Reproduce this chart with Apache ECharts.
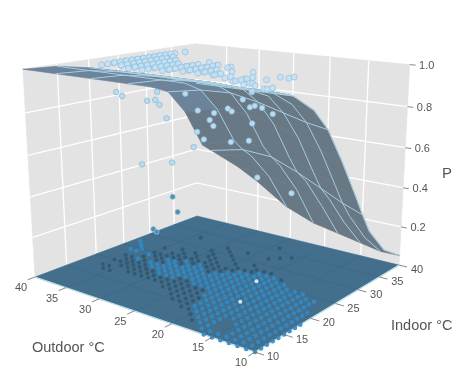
<!DOCTYPE html>
<html>
<head>
<meta charset="utf-8">
<style>
  html, body { margin: 0; padding: 0; background: #fff; }
  #chart { width: 469px; height: 375px; }
</style>
<script src="https://cdn.jsdelivr.net/npm/echarts@6/dist/echarts.min.js"></script>
</head>
<body>
<div id="chart"></div>
<script>
// tick labels
const outdoorTicks = [40, 35, 30, 25, 20, 15, 10]
const indoorTicks = [10, 15, 20, 25, 30, 35, 40]
const pTicks = [0.2, 0.4, 0.6, 0.8, 1.0]

// fitted surface: one row per outdoor node, one column per indoor node
const surfaceOutdoor = [10, 12, 14, 15, 16, 18, 20, 22, 25, 30, 35, 40]
const surfaceIndoor = [10, 15, 20, 25, 30, 35, 40]
const surfaceP = [
  [0.70, 0.55, 0.43, 0.33, 0.23, 0.13, 0.05],
  [0.74, 0.66, 0.56, 0.44, 0.31, 0.18, 0.06],
  [0.77, 0.73, 0.65, 0.54, 0.41, 0.27, 0.14],
  [0.785, 0.75, 0.68, 0.57, 0.45, 0.33, 0.22],
  [0.80, 0.78, 0.72, 0.63, 0.52, 0.41, 0.31],
  [0.92, 0.90, 0.85, 0.77, 0.67, 0.57, 0.48],
  [0.99, 0.97, 0.93, 0.86, 0.78, 0.70, 0.63],
  [1.00, 0.99, 0.96, 0.91, 0.85, 0.78, 0.72],
  [1.00, 0.99, 0.96, 0.92, 0.87, 0.83, 0.78],
  [1.00, 0.99, 0.96, 0.92, 0.88, 0.83, 0.78],
  [1.00, 0.99, 0.96, 0.92, 0.88, 0.83, 0.78],
  [1.00, 0.99, 0.96, 0.92, 0.88, 0.83, 0.78]
]

// observations at P = 0, as [outdoor, [indoor, ...]]
const floorBright = [
  [10, [10, 11, 12, 13, 14, 15, 16, 17, 18]],
  [11, [10, 11, 12, 13, 14, 15, 16, 17, 18, 19, 20, 21]],
  [12, [10, 11, 12, 13, 14, 15, 16, 17, 18, 19, 20, 21, 22, 23, 24]],
  [13, [10, 11, 12, 13, 14, 15, 16, 17, 18, 19, 20, 21, 22, 23, 24]],
  [14, [10, 11, 12, 13, 14, 15, 16, 17, 18, 19, 20, 21, 22, 23, 24, 25]],
  [15, [10, 11, 14, 15, 16, 17, 18, 19, 20, 21, 22, 23, 24, 25]],
  [16, [10, 11, 15, 16, 17, 18, 19, 20, 21, 22, 23, 24, 25]],
  [17, [11, 12, 13, 14, 15, 16, 17, 18, 19, 20, 21, 22, 23, 24, 25, 26]],
  [18, [12, 13, 14, 15, 16, 17, 18, 19, 20, 21, 22, 23, 24, 25, 26]],
  [19, [13, 14, 15, 16, 17, 18, 19, 20, 21, 22, 23, 24, 25, 26, 27]],
  [20, [14, 15, 16, 17, 18, 19, 20, 21, 22, 23, 24, 25, 26, 27]],
  [21, [15, 16, 17, 18, 19, 20, 21, 22, 23, 24, 25, 26, 27]],
  [22, [18, 19, 20, 21, 22, 23, 24, 25, 26]],
  [23, [20, 21, 22, 23, 24, 25, 26]],
  [24, [20, 21, 22, 23, 24, 25]],
  [25, [20, 21, 22, 23, 24]],
  [26, [21, 22, 23]],
  [27, [21, 22, 23, 24]],
  [28, [20, 21, 22, 23, 24, 25]],
  [29, [20, 21, 22, 23, 24]],
  [30, [20, 21, 22, 23, 25]],
  [31, [21, 22, 23, 24]],
  [32, [21, 22, 24]],
  [33, [22]],
  [35, [22, 24]],
  [37, [24, 25]],
  [38, [24, 26]],
  [39, [27]]
]
const floorDark = [
  [18, [27]],
  [19, [12]],
  [20, [13, 28]],
  [21, [14, 28, 34]],
  [22, [14, 15, 16, 17, 27, 28, 33]],
  [23, [15, 16, 17, 18, 19, 27, 29, 32]],
  [24, [15, 16, 17, 18, 19, 26, 27, 36]],
  [25, [16, 17, 18, 19, 25, 26, 28]],
  [26, [17, 18, 19, 20, 24, 25, 26, 29, 32]],
  [27, [17, 18, 19, 20, 25, 26, 27, 30]],
  [28, [18, 19, 26, 27, 28, 31]],
  [29, [18, 19, 25, 26, 28, 29, 32]],
  [30, [18, 19, 24, 26, 27, 30]],
  [31, [18, 19, 20, 25, 26, 28]],
  [32, [18, 19, 20, 23, 25, 26, 27]],
  [33, [18, 19, 20, 21, 23, 24, 25, 26, 28]],
  [34, [19, 20, 21, 22, 24, 25, 33]],
  [35, [17, 19, 20, 21, 23, 25, 27]],
  [36, [17, 18, 20, 21, 22]],
  [37, [18, 20, 22]]
]
const floorWhite = [[18, 19], [20, 25]]

// observations near P = 1, as [outdoor, P, [indoor, ...]]
const topRows = [
  [37, 0.99, [19, 20, 21, 22, 23, 24, 25, 26, 27, 28, 29, 30, 32, 34]],
  [36, 1.00, [20, 21, 22, 23, 24, 25, 26, 27, 28, 29, 30]],
  [35, 0.99, [20, 21, 22, 23, 24, 25, 26, 27, 28, 29]],
  [34, 1.00, [19, 20, 21, 22, 23, 24, 25, 26, 28]],
  [33, 0.99, [19, 20, 21, 22, 23, 24, 25, 26, 27]],
  [32, 1.00, [19, 20, 21, 22, 23, 24, 25, 26]],
  [31, 0.99, [19, 20, 21, 22, 23, 24, 25]],
  [30, 1.00, [20, 21, 22, 23, 24]],
  [29, 0.99, [20, 21, 22, 23, 24, 25]],
  [28, 1.00, [20, 21, 22, 23, 24, 25, 27]],
  [27, 0.99, [21, 22, 23, 24, 25, 27]],
  [26, 1.00, [21, 22, 23, 24, 25, 26]],
  [25, 0.99, [21, 22, 23, 24, 27]],
  [24, 1.00, [21, 22, 23, 25]],
  [23, 0.99, [21, 22]],
  [22, 1.00, [20, 21, 23]],
  [20, 1.00, [19, 20, 24]],
  [19, 0.99, [19, 21]],
  [18, 1.00, [18, 19, 20, 21]],
  [17, 0.99, [18, 19, 22]],
  [16, 1.00, [18, 23]],
  [15, 1.00, [17, 23, 24]],
  [14, 0.99, [15, 17]],
  [13, 1.00, [16, 17]]
]

// scattered observations between the floor and the top, as [outdoor, indoor, P]
const midPoints = [
  [27.5, 22, 0.88], [25.8, 22, 0.81], [23.6, 22, 0.81], [24.2, 22, 0.775], [23.7, 22, 0.75],
  [21.8, 22, 0.84], [21.3, 22, 0.83], [19.9, 22, 0.89], [19, 22, 0.86], [18.7, 22, 0.79],
  [18.4, 22, 0.87], [17.5, 22, 0.865], [16.2, 22, 0.845], [25.9, 22, 0.71], [25, 22, 0.68],
  [21.4, 22, 0.69], [19.1, 22, 0.71], [18, 22, 0.55], [13.8, 22, 0.51], [26.4, 22, 0.635],
  [29.5, 22, 0.54], [34, 22, 0.50], [30.2, 22, 0.75], [37.7, 22, 0.84], [36.8, 22, 0.825],
  [33, 22, 0.82], [31.8, 22, 0.83], [31.2, 22, 0.81], [31.5, 22, 0.87]
]
const lowPoints = [[29.5, 22, 0.37], [28.8, 22, 0.30], [32.5, 22, 0.18], [32, 22, 0.17]]

// perspective camera fitted to the box corners
const camera = [
  [174.8, 204.5, -13.5, 35],
  [12.6, -14.4, -212, 277],
  [-0.1774, 0.2156, -0.06, 1]
]

const project = (outdoor, indoor, p) => {
  const v = [(40 - outdoor) / 30, (indoor - 10) / 30, p, 1]
  const dot = (row) => row[0] * v[0] + row[1] * v[1] + row[2] * v[2] + row[3]
  const w = dot(camera[2])
  return [dot(camera[0]) / w, dot(camera[1]) / w]
}

const expandFloor = (rows) => rows.flatMap(([o, list]) => list.map((i) => project(o, i, 0)))

// filled polygons, each a list of [outdoor, indoor, P]
const polygonSeries = (polys, fill, z) => ({
  type: 'custom',
  silent: true,
  z,
  data: polys.map((_, k) => [k]),
  renderItem: (params, api) => ({
    type: 'polygon',
    shape: { points: polys[params.dataIndex].map((c) => api.coord(project(c[0], c[1], c[2]))) },
    style: {
      fill: typeof fill === 'function' ? fill(params.dataIndex) : fill,
      stroke: typeof fill === 'function' ? fill(params.dataIndex) : fill,
      lineWidth: 0.6
    }
  })
})

const lineSeries = (lines, color, width, z) => ({
  type: 'custom',
  silent: true,
  z,
  data: lines.map((_, k) => [k]),
  renderItem: (params, api) => ({
    type: 'polyline',
    shape: { points: lines[params.dataIndex].map((c) => api.coord(project(c[0], c[1], c[2]))) },
    style: { fill: 'none', stroke: color, lineWidth: width }
  })
})

const textSeries = (labels, z) => ({
  type: 'custom',
  silent: true,
  z,
  data: labels.map((_, k) => [k]),
  renderItem: (params, api) => {
    const l = labels[params.dataIndex]
    const pos = api.coord(project(l.at[0], l.at[1], l.at[2]))
    return {
      type: 'text',
      x: pos[0] + l.dx,
      y: pos[1] + l.dy,
      style: {
        text: l.text,
        fill: '#555555',
        font: '11px "Liberation Sans", Arial, sans-serif',
        align: 'center',
        verticalAlign: 'middle'
      }
    }
  }
})

const scatterSeries = (points, size, color, border, z, opacity) => ({
  type: 'scatter',
  silent: true,
  z,
  symbolSize: size,
  data: points,
  itemStyle: { color, borderColor: border, borderWidth: border === 'none' ? 0 : 0.8, opacity: opacity || 1 }
})

// box
const walls = [
  [[40, 10, 0], [40, 40, 0], [40, 40, 1], [40, 10, 1]],
  [[40, 40, 0], [10, 40, 0], [10, 40, 1], [40, 40, 1]]
]
const floor = [[[40, 10, 0], [10, 10, 0], [10, 40, 0], [40, 40, 0]]]

const wallGrid = []
pTicks.slice(0, 4).forEach((p) => {
  wallGrid.push([[40, 10, p], [40, 40, p], [10, 40, p]])
})
;[15, 20, 25, 30, 35].forEach((v) => {
  wallGrid.push([[40, v, 0], [40, v, 1]])
  wallGrid.push([[v, 40, 0], [v, 40, 1]])
})

const floorGrid = []
;[15, 20, 25, 30, 35].forEach((v) => {
  floorGrid.push([[40, v, 0], [10, v, 0]])
  floorGrid.push([[v, 10, 0], [v, 40, 0]])
})

const floorEdge = [[[40, 10, 0], [10, 10, 0], [10, 40, 0]]]

// surface cells, far ones first so nearer ones paint over them
const surfaceCells = []
const cellMean = []
for (let r = surfaceOutdoor.length - 2; r >= 0; r--) {
  for (let c = surfaceIndoor.length - 2; c >= 0; c--) {
    surfaceCells.push([
      [surfaceOutdoor[r], surfaceIndoor[c], surfaceP[r][c]],
      [surfaceOutdoor[r + 1], surfaceIndoor[c], surfaceP[r + 1][c]],
      [surfaceOutdoor[r + 1], surfaceIndoor[c + 1], surfaceP[r + 1][c + 1]],
      [surfaceOutdoor[r], surfaceIndoor[c + 1], surfaceP[r][c + 1]]
    ])
    cellMean.push((surfaceP[r][c] + surfaceP[r + 1][c] + surfaceP[r][c + 1] + surfaceP[r + 1][c + 1]) / 4)
  }
}

const surfaceWire = []
surfaceIndoor.slice(1, -1).forEach((ind, c) => {
  surfaceWire.push(surfaceOutdoor.map((o, r) => [o, ind, surfaceP[r][c + 1]]))
})
;[15, 20, 25, 30, 35].forEach((o) => {
  const r = surfaceOutdoor.indexOf(o)
  surfaceWire.push(surfaceIndoor.map((ind, c) => [o, ind, surfaceP[r][c]]))
})
const surfaceEdge = [surfaceOutdoor.map((o, r) => [o, 40, surfaceP[r][6]])]

const topPoints = topRows.flatMap(([o, p, list]) => list.map((i) => project(o, i, p)))

// ticks and their labels
const tickLines = [
  ...outdoorTicks.map((o) => [[o, 10, 0], [o, 8.9, 0]]),
  ...indoorTicks.map((i) => [[10, i, 0], [9, i, 0]]),
  ...pTicks.map((p) => [[10, 40, p], [9.3, 40, p]])
]
const tickLabels = [
  ...outdoorTicks.map((o) => ({ at: [o, 10, 0], text: String(o), dx: -14, dy: 11 })),
  ...indoorTicks.map((i) => ({ at: [10, i, 0], text: String(i), dx: 18, dy: 5 })),
  ...pTicks.map((p) => ({ at: [10, 40, p], text: p.toFixed(1), dx: 17, dy: 1 }))
]

const chart = echarts.init(document.getElementById('chart'))
chart.setOption({
  animation: false,
  backgroundColor: '#fff',
  grid: { left: 0, right: 0, top: 0, bottom: 0 },
  xAxis: { type: 'value', min: 0, max: 469, show: false },
  yAxis: { type: 'value', min: 0, max: 375, inverse: true, show: false },
  graphic: [
    { type: 'text', x: 32, y: 340, style: { text: 'Outdoor °C', fill: '#555555', font: '14.5px "Liberation Sans", Arial, sans-serif' } },
    { type: 'text', x: 391, y: 318, style: { text: 'Indoor °C', fill: '#555555', font: '14.5px "Liberation Sans", Arial, sans-serif' } },
    { type: 'text', x: 442, y: 166, style: { text: 'P', fill: '#555555', font: '15px "Liberation Sans", Arial, sans-serif' } }
  ],
  series: [
    polygonSeries(walls, '#e3e3e3', 1),
    lineSeries(wallGrid, '#ffffff', 1.3, 2),
    polygonSeries(floor, '#436f8d', 3),
    lineSeries(floorGrid, '#3a6a8c', 1, 4),
    lineSeries(floorEdge, '#bfe4f4', 1.2, 4),
    scatterSeries(expandFloor(floorDark), 4, '#2f566f', 'none', 5, 0.85),
    scatterSeries(expandFloor(floorBright), 4.5, '#3189c4', 'none', 6, 0.9),
    scatterSeries(floorWhite.map((f) => project(f[0], f[1], 0)), 4, '#cfe6f3', 'none', 7),
    scatterSeries(lowPoints.map((f) => project(f[0], f[1], f[2])), 5, '#4d8fb3', '#8fb6cc', 7),
    polygonSeries(surfaceCells, (k) => (cellMean[k] > 0.93 ? '#6c8399' : '#687885'), 8),
    lineSeries(surfaceWire, '#a9d2e8', 0.9, 9),
    lineSeries(surfaceEdge, '#a9cfe2', 1.1, 9),
    scatterSeries(midPoints.map((f) => project(f[0], f[1], f[2])), 5.5, '#b9dcf1', '#8db9d6', 10),
    scatterSeries(topPoints, 6, '#c4e1f3', '#8fbedb', 11, 0.85),
    lineSeries(tickLines, '#6a6a6a', 0.8, 12),
    textSeries(tickLabels, 12)
  ]
})
</script>
</body>
</html>
